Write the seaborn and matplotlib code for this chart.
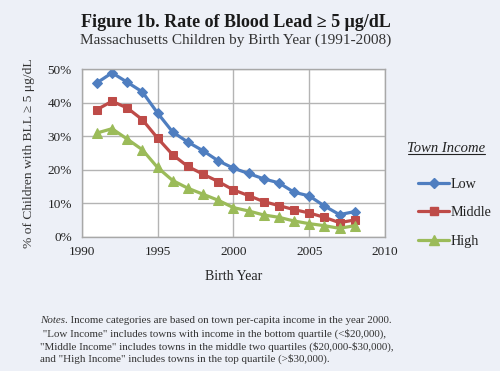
"""
Figure 1b: rate of blood lead >= 5 ug/dL by birth year and town income
"""
import matplotlib
matplotlib.use("Agg")
import matplotlib.pyplot as plt
from matplotlib.ticker import PercentFormatter, MultipleLocator
from matplotlib.lines import Line2D
import pandas as pd
import seaborn as sns

# values (fraction of children)
years = list(range(1991, 2009))
low = [0.460, 0.490, 0.462, 0.433, 0.370, 0.313, 0.283, 0.257, 0.227,
       0.205, 0.189, 0.173, 0.161, 0.133, 0.122, 0.092, 0.066, 0.075]
middle = [0.380, 0.405, 0.385, 0.350, 0.295, 0.245, 0.210, 0.187, 0.165,
          0.140, 0.123, 0.105, 0.093, 0.081, 0.071, 0.058, 0.042, 0.050]
high = [0.310, 0.323, 0.292, 0.260, 0.207, 0.168, 0.145, 0.127, 0.109,
        0.087, 0.077, 0.065, 0.058, 0.047, 0.039, 0.033, 0.025, 0.033]
groups = ["Low", "Middle", "High"]
x_ticks = [1990, 1995, 2000, 2005, 2010]

palette = {"Low": "#4F7EC0", "Middle": "#BE4B48", "High": "#9BBB59"}
markers = {"Low": "D", "Middle": "s", "High": "^"}
marker_sizes = {"Low": 5.5, "Middle": 5.5, "High": 6.5}

df = pd.DataFrame({
    "Birth Year": years * 3,
    "Rate": low + middle + high,
    "Town Income": [g for g in groups for _ in years],
})

sns.set_theme(style="whitegrid")
plt.rcParams["font.family"] = ["Liberation Serif", "DejaVu Serif"]

bg = "#EDF0F7"
fig = plt.figure(figsize=(5.0, 3.71), dpi=100, facecolor=bg)
ax = fig.add_axes([0.1634, 0.362, 0.6066, 0.4507])
ax.set_facecolor("white")

sns.lineplot(data=df, x="Birth Year", y="Rate", hue="Town Income",
             style="Town Income", palette=palette, markers=markers,
             dashes=False, linewidth=2.3, ax=ax, legend=False)

for line, g in zip(ax.lines, groups):
    line.set_markeredgecolor(palette[g])
    line.set_markerfacecolor(palette[g])
    line.set_markersize(marker_sizes[g])

ax.set_xlim(1990, 2010)
ax.set_ylim(0, 0.5)
ax.set_xticks(x_ticks)
ax.yaxis.set_major_locator(MultipleLocator(0.1))
ax.yaxis.set_major_formatter(PercentFormatter(1.0, decimals=0))
ax.grid(True, color="#B4B4B4", linewidth=1.0)
for sp in ax.spines.values():
    sp.set_visible(True)
    sp.set_color("#A8A8A8")
    sp.set_linewidth(1.0)
ax.tick_params(axis="both", direction="out", length=4, width=1,
               color="#A8A8A8", labelsize=9.5, labelcolor="#222222", pad=3)

ax.set_xlabel("Birth Year", fontsize=10, color="#222222", labelpad=8)
ax.set_ylabel("% of Children with BLL \u2265 5 \u03bcg/dL", fontsize=9.7,
              color="#333333", labelpad=9)

# titles
fig.text(0.472, 0.94, "Figure 1b. Rate of Blood Lead \u2265 5 \u03bcg/dL",
         ha="center", va="center", fontsize=13, fontweight="bold",
         color="#1a1a1a")
fig.text(0.472, 0.892, "Massachusetts Children by Birth Year (1991-2008)",
         ha="center", va="center", fontsize=11, color="#333333")

# legend
handles = [Line2D([], [], color=palette[g], marker=markers[g], lw=2.3,
                  markersize=marker_sizes[g], mec=palette[g]) for g in groups]
fig.legend(handles, groups, loc="center left",
           bbox_to_anchor=(0.836, 0.426), frameon=False, fontsize=10.2,
           handlelength=2.2, handletextpad=0.1, labelspacing=1.1,
           borderpad=0, borderaxespad=0, labelcolor="#222222")
fig.text(0.892, 0.601, "Town Income", ha="center", va="center",
         fontsize=10.5, fontstyle="italic", color="#222222")
fig.add_artist(Line2D([0.815, 0.969], [0.586, 0.586], color="#222222",
                      lw=0.8, transform=fig.transFigure))

# notes
note_kw = dict(fontsize=7.9, color="#333333", va="center")
t1 = fig.text(0.08, 0.135, "Notes", fontstyle="italic", **note_kw)
ax.annotate(". Income categories are based on town per-capita income in the year 2000.",
            xy=(1, 0.5), xycoords=t1, ha="left", **note_kw)
fig.text(0.08, 0.10, ' "Low Income" includes towns with income in the bottom quartile (<\\$20,000),',
         **note_kw)
fig.text(0.08, 0.065, '"Middle Income" includes towns in the middle two quartiles (\\$20,000-\\$30,000),',
         **note_kw)
fig.text(0.08, 0.032, 'and "High Income" includes towns in the top quartile (>\\$30,000).',
         **note_kw)

fig.savefig("out.png", dpi=100, facecolor=bg)
